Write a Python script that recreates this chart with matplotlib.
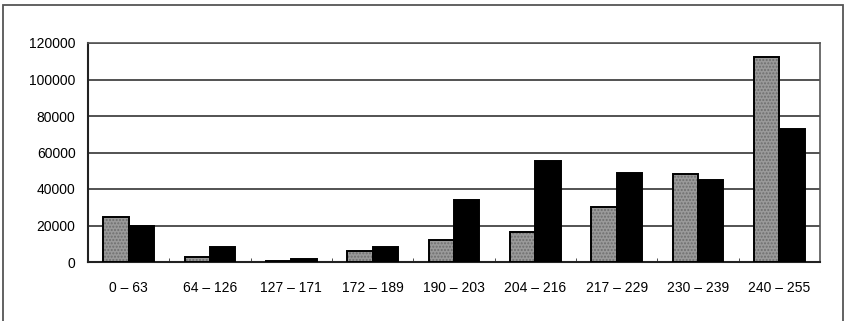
import numpy as np
import matplotlib.pyplot as plt
from matplotlib.patches import Rectangle

# 구간별 개수
ranges = ['0 – 63', '64 – 126', '127 – 171', '172 – 189', '190 – 203',
          '204 – 216', '217 – 229', '230 – 239', '240 – 255']
series_gray = [24500, 2900, 300, 6200, 12000, 16300, 30000, 48200, 112500]
series_black = [19500, 8400, 1600, 8400, 34000, 55300, 48600, 44900, 72700]

plt.rcParams['font.family'] = ['Liberation Sans', 'DejaVu Sans']

fig = plt.figure(figsize=(8.5, 3.21), dpi=100)
ax = fig.add_axes([88/850, 59/321, 732/850, 219/321])

x = np.arange(len(ranges))
w = 0.31
ax.bar(x - w/2, series_gray, w, color='#9a9a9a', edgecolor='#6e6e6e', linewidth=0,
       hatch='.....', zorder=3)
ax.bar(x - w/2, series_gray, w, color='none', edgecolor='black', linewidth=1.4, zorder=4)
ax.bar(x + w/2, series_black, w, color='black', edgecolor='black', linewidth=1.4, zorder=3)

ax.set_xlim(-0.5, len(ranges) - 0.5)
ax.set_ylim(0, 120000)
ax.set_yticks(np.arange(0, 120001, 20000))
ax.set_xticks(x)
ax.set_xticklabels(ranges)
ax.set_xticks(x[:-1] + 0.5, minor=True)
ax.tick_params(axis='x', which='major', length=0, pad=14, labelsize=10)
ax.tick_params(axis='x', which='minor', length=3, direction='in', color='#333333')
ax.tick_params(axis='y', length=0, pad=9, labelsize=10)
ax.yaxis.grid(True, color='#444444', linewidth=1.3, zorder=0)
ax.set_axisbelow(True)
for s in ['top', 'right']:
    ax.spines[s].set_color('#555555')
    ax.spines[s].set_linewidth(1.2)
for s in ['left', 'bottom']:
    ax.spines[s].set_color('#222222')
    ax.spines[s].set_linewidth(1.5)

# 바깥 테두리
fig.patches.append(Rectangle((3/850, -0.05), 840/850, 1.05 - 5/321, transform=fig.transFigure,
                             fill=False, edgecolor='#555555', linewidth=1.3))

fig.savefig('out.png', dpi=100)
